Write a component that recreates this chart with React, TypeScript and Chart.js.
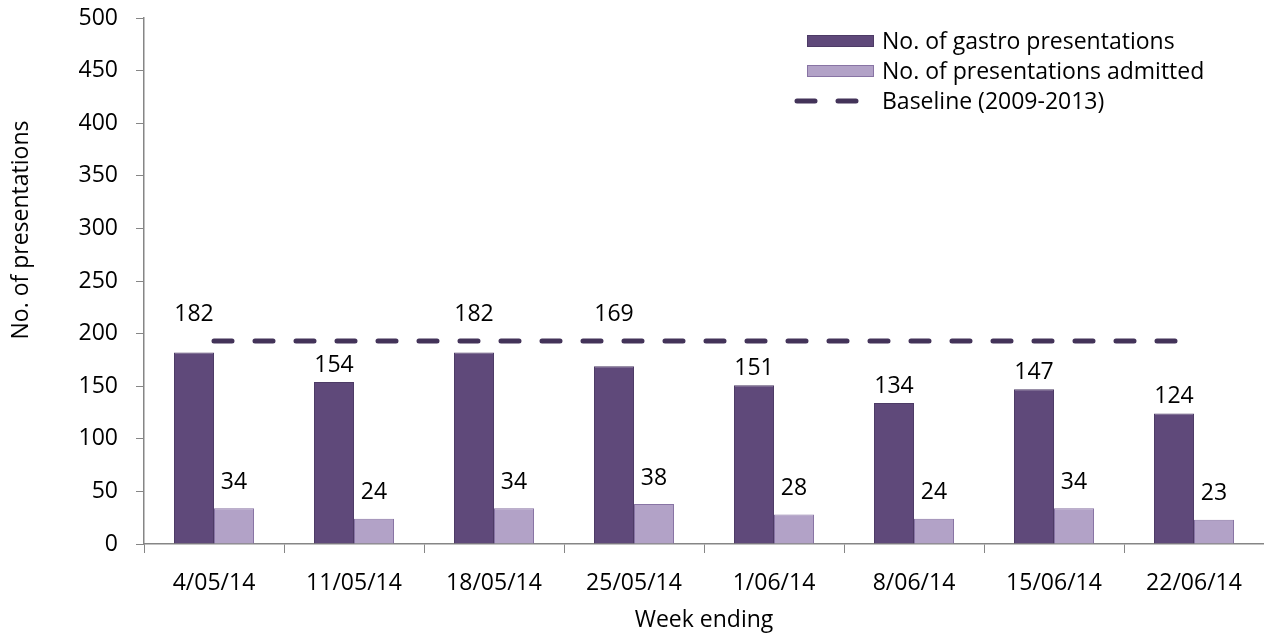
import React, { useEffect, useRef } from "react";
import { Chart, registerables } from "chart.js";

Chart.register(...registerables);

const weeks = ["4/05/14", "11/05/14", "18/05/14", "25/05/14", "1/06/14", "8/06/14", "15/06/14", "22/06/14"];
const gastroPresentations = [182, 154, 182, 169, 151, 134, 147, 124];
const presentationsAdmitted = [34, 24, 34, 38, 28, 24, 34, 23];
const baseline = [193, 193, 193, 193, 193, 193, 193, 193];
const yTicks = { min: 0, max: 500, step: 50 };

const FONT = "'Open Sans', sans-serif";
const FS = 23;
const DARK = "#5f497a";
const DARK_BORDER = "#4d3b66";
const LIGHT = "#b2a2c7";
const LIGHT_BORDER = "#8874a4";
const LINE = "#433359";
const AXIS = "#868686";

const overlayPlugin = {
  id: "overlay",
  afterDraw(chart: any) {
    const ctx = chart.ctx;
    const area = chart.chartArea;
    const yScale = chart.scales.y;
    ctx.save();
    ctx.font = `${FS}px ${FONT}`;
    ctx.fillStyle = "#000";
    ctx.textAlign = "center";
    ctx.textBaseline = "middle";

    // data labels
    const darkMeta = chart.getDatasetMeta(0);
    const lightMeta = chart.getDatasetMeta(1);
    darkMeta.data.forEach((el: any, i: number) => {
      let cy = el.y - 17;
      const lineY = yScale.getPixelForValue(baseline[i]);
      if (Math.abs(cy - lineY) < 16) cy = lineY - 27;
      ctx.fillText(String(gastroPresentations[i]), el.x, cy);
    });
    lightMeta.data.forEach((el: any, i: number) => {
      ctx.fillText(String(presentationsAdmitted[i]), el.x, el.y - 26);
    });

    // axis titles
    ctx.fillText("Week ending", (area.left + area.right) / 2, 620);
    ctx.save();
    ctx.translate(21, 230);
    ctx.rotate(-Math.PI / 2);
    ctx.fillText("No. of presentations", 0, 0);
    ctx.restore();

    // legend
    const lx = 807;
    const lw = 67;
    const rows = [41, 71, 101];
    ctx.lineWidth = 1;
    ctx.fillStyle = DARK;
    ctx.strokeStyle = DARK_BORDER;
    ctx.fillRect(lx, rows[0] - 6, lw, 12);
    ctx.strokeRect(lx + 0.5, rows[0] - 5.5, lw - 1, 11);
    ctx.fillStyle = LIGHT;
    ctx.strokeStyle = LIGHT_BORDER;
    ctx.fillRect(lx, rows[1] - 6, lw, 12);
    ctx.strokeRect(lx + 0.5, rows[1] - 5.5, lw - 1, 11);
    ctx.strokeStyle = LINE;
    ctx.lineWidth = 5;
    ctx.lineCap = "round";
    ctx.setLineDash([18, 23]);
    ctx.beginPath();
    ctx.moveTo(lx - 10, rows[2]);
    ctx.lineTo(lx + lw - 6, rows[2]);
    ctx.stroke();
    ctx.setLineDash([]);
    ctx.fillStyle = "#000";
    ctx.textAlign = "left";
    const names = ["No. of gastro presentations", "No. of presentations admitted", "Baseline (2009-2013)"];
    names.forEach((n, i) => ctx.fillText(n, 882, rows[i] + 1));
    ctx.restore();
  },
};

export default function App() {
  const ref = useRef<HTMLCanvasElement | null>(null);
  useEffect(() => {
    if (!ref.current) return;
    const chart = new Chart(ref.current, {
      type: "bar",
      data: {
        labels: weeks,
        datasets: [
          {
            type: "bar",
            label: "No. of gastro presentations",
            data: gastroPresentations,
            backgroundColor: DARK,
            borderColor: DARK_BORDER,
            borderWidth: 1,
            categoryPercentage: 80 / 140,
            barPercentage: 1,
            order: 1,
          },
          {
            type: "bar",
            label: "No. of presentations admitted",
            data: presentationsAdmitted,
            backgroundColor: LIGHT,
            borderColor: LIGHT_BORDER,
            borderWidth: 1,
            categoryPercentage: 80 / 140,
            barPercentage: 1,
            order: 1,
          },
          {
            type: "line",
            label: "Baseline (2009-2013)",
            data: baseline,
            borderColor: LINE,
            borderWidth: 5,
            borderDash: [18, 23],
            borderCapStyle: "round",
            pointRadius: 0,
            fill: false,
            order: 0,
          } as any,
        ],
      },
      options: {
        animation: false,
        responsive: true,
        maintainAspectRatio: false,
        layout: { padding: { top: 18, right: 0, left: 0, bottom: 0 } },
        plugins: { legend: { display: false }, tooltip: { enabled: false } },
        scales: {
          x: {
            grid: { drawOnChartArea: false, tickLength: 9, color: AXIS, offset: true },
            border: { color: AXIS, width: 1.5 },
            ticks: { font: { family: FONT, size: FS }, color: "#000", padding: 17, maxRotation: 0, autoSkip: false },
            afterFit: (s: any) => { s.height = 91; s.paddingLeft = 0; s.paddingRight = 0; },
          },
          y: {
            min: yTicks.min,
            max: yTicks.max,
            grid: { drawOnChartArea: false, tickLength: 8, color: AXIS },
            border: { color: AXIS, width: 1.5 },
            ticks: { stepSize: yTicks.step, font: { family: FONT, size: FS }, color: "#000", padding: 18 },
            afterFit: (s: any) => { s.width = 144; s.paddingTop = 0; s.paddingBottom = 0; },
          },
        },
      },
      plugins: [overlayPlugin],
    });
    return () => chart.destroy();
  }, []);
  return (
    <div style={{ position: "absolute", left: 0, top: 0, width: 1264, height: 635 }}>
      <canvas ref={ref} />
    </div>
  );
}
